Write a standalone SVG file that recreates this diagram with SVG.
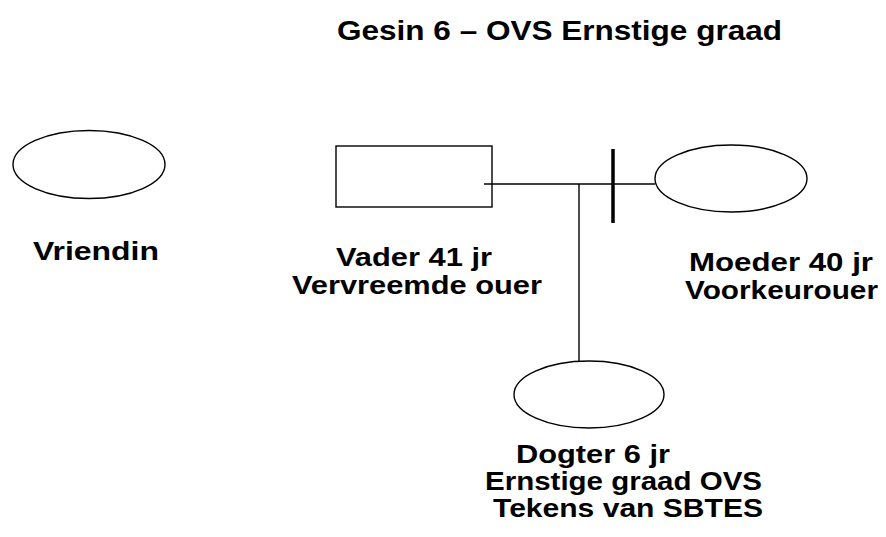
<svg xmlns="http://www.w3.org/2000/svg" width="886" height="537" viewBox="0 0 886 537">
<style>
.shape{fill:none;stroke:#000;stroke-width:1.4}
.conn{fill:none;stroke:#000;stroke-width:1.4}
.bar{stroke:#000;stroke-width:3.5}
text{font-family:"Liberation Sans",Arial,sans-serif;font-weight:bold;fill:#000;font-size:26px}
.title{font-size:27.5px}
.small{font-size:25px}
</style>
<rect width="886" height="537" fill="#fff"/>
<text class="title" x="337" y="40" textLength="445" lengthAdjust="spacingAndGlyphs">Gesin 6 – OVS Ernstige graad</text>
<g id="connectors">
<line class="conn" x1="484" y1="184" x2="655" y2="184"/>
<line class="conn" x1="579" y1="184" x2="579" y2="361"/>
<line class="bar" x1="613" y1="149" x2="613" y2="223"/>
</g>
<g id="vriendin">
<ellipse class="shape" cx="89" cy="164.5" rx="76" ry="34"/>
<text x="33" y="260" textLength="126" lengthAdjust="spacingAndGlyphs">Vriendin</text>
</g>
<g id="vader">
<rect class="shape" x="336" y="146" width="156" height="61"/>
<text x="336" y="266" textLength="156" lengthAdjust="spacingAndGlyphs">Vader 41 jr</text>
<text x="292" y="294" textLength="250" lengthAdjust="spacingAndGlyphs">Vervreemde ouer</text>
</g>
<g id="moeder">
<ellipse class="shape" cx="731" cy="178.5" rx="76" ry="33.5"/>
<text x="689" y="271" textLength="184" lengthAdjust="spacingAndGlyphs">Moeder 40 jr</text>
<text x="685" y="299" textLength="193" lengthAdjust="spacingAndGlyphs">Voorkeurouer</text>
</g>
<g id="dogter">
<ellipse class="shape" cx="589" cy="394.5" rx="75" ry="33.5"/>
<text class="small" x="516" y="463" textLength="154" lengthAdjust="spacingAndGlyphs">Dogter 6 jr</text>
<text class="small" x="485" y="490" textLength="277" lengthAdjust="spacingAndGlyphs">Ernstige graad OVS</text>
<text class="small" x="493" y="517" textLength="270" lengthAdjust="spacingAndGlyphs">Tekens van SBTES</text>
</g>
</svg>
